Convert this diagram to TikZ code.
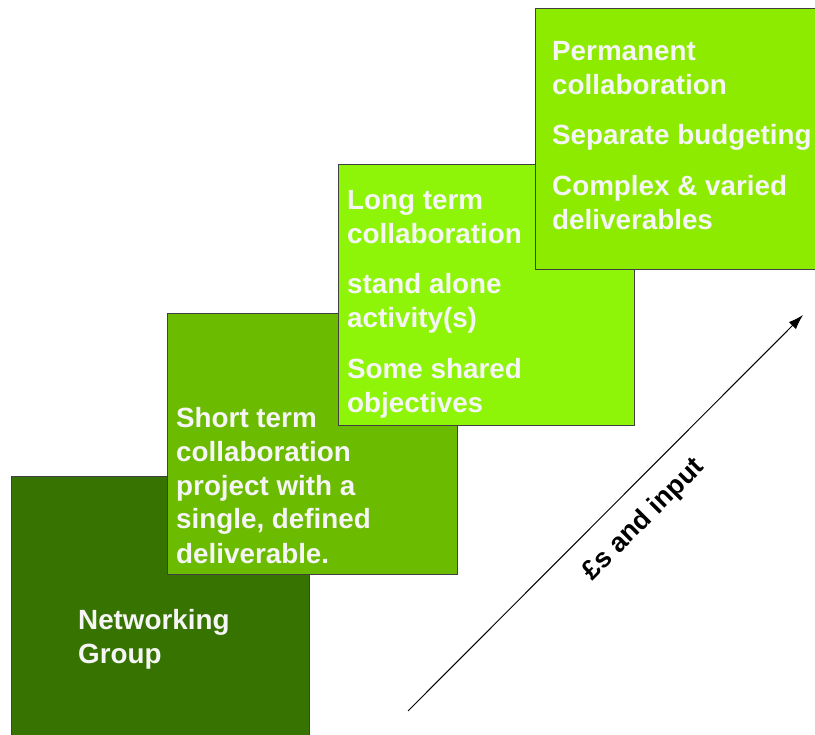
\documentclass[tikz,border=0pt]{standalone}
\usepackage{fontspec}
\setmainfont{Liberation Sans}
\usetikzlibrary{arrows.meta}
\definecolor{gA}{RGB}{54,115,0}
\definecolor{gB}{RGB}{107,187,0}
\definecolor{gC}{RGB}{143,245,8}
\definecolor{gD}{RGB}{141,235,0}
\definecolor{txtc}{RGB}{245,245,245}
\begin{document}
\begin{tikzpicture}[x=1pt,y=-1pt,
  box/.style={draw=black!75, line width=1pt, rectangle, anchor=north west, inner sep=0pt, outer sep=0pt},
  txt/.style={anchor=base west, inner sep=0pt, text=txtc, font=\fontsize{27.8}{34}\selectfont\bfseries},
  lbl/.style={inner sep=0pt, text=black, font=\fontsize{27}{32}\selectfont\bfseries}]
\useasboundingbox (0,0) rectangle (815,735);
\clip (0,0) rectangle (815,735);
\fill[white] (0,0) rectangle (815,735);
% boxes
\node[box, fill=gA, minimum width=298pt, minimum height=261pt] (b1) at (11,477) {};
\node[box, fill=gB, minimum width=290pt, minimum height=261pt] (b2) at (167,314) {};
\node[box, fill=gC, minimum width=296pt, minimum height=261pt] (b3) at (338,165) {};
\node[box, fill=gD, minimum width=300pt, minimum height=261pt] (b4) at (535,9) {};
% box 1 text
\node[txt] (t11) at (78,629) {Networking};
\node[txt] (t12) at (78,663) {Group};
% box 2 text
\node[txt] (t21) at (176,428) {Short term};
\node[txt] (t22) at (176,462) {collaboration};
\node[txt] (t23) at (176,495.5) {project with a};
\node[txt] (t24) at (176,529) {single, defined};
\node[txt] (t25) at (176,563) {deliverable.};
% box 3 text
\node[txt] (t31) at (347,210) {Long term};
\node[txt] (t32) at (347,244) {collaboration};
\node[txt] (t33) at (347,294) {stand alone};
\node[txt] (t34) at (347,328) {activity(s)};
\node[txt] (t35) at (347,379) {Some shared};
\node[txt] (t36) at (347,413) {objectives};
% box 4 text
\node[txt] (t41) at (552,61) {Permanent};
\node[txt] (t42) at (552,95) {collaboration};
\node[txt] (t43) at (552,145) {Separate budgeting};
\node[txt] (t44) at (552,196) {Complex \& varied};
\node[txt] (t45) at (552,230) {deliverables};
% arrow
\coordinate (a0) at (408,711);
\coordinate (a1) at (803,315);
\draw[line width=1pt, -{Latex[length=15pt,width=10pt]}] (a0) -- node[lbl, pos=0.54, sloped, below=19pt] (lab) {£s and input} (a1);
\end{tikzpicture}
\end{document}
